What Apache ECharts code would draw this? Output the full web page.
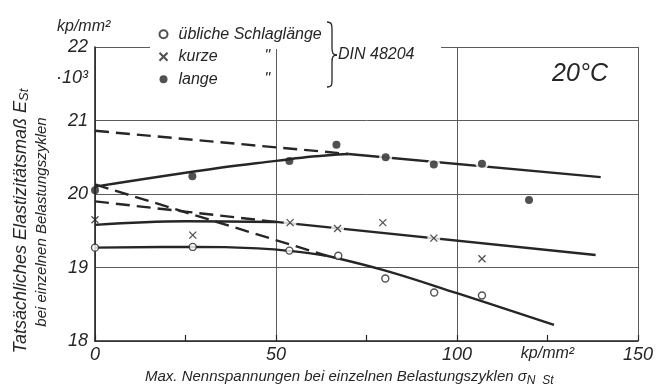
<!DOCTYPE html>
<html>
<head>
<meta charset="utf-8">
<script src="https://cdn.jsdelivr.net/npm/echarts@6/dist/echarts.min.js"></script>
<style>
  html, body { margin: 0; padding: 0; background: #fff; }
  #chart { width: 656px; height: 389px; }
</style>
</head>
<body>
<div id="chart"></div>
<script>
// Measured points: [max. nominal stress kp/mm², modulus in 10³ kp/mm²]
const ueblichePts = [[0, 19.27], [27, 19.28], [53.7, 19.23], [67.2, 19.16], [80.2, 18.85], [93.7, 18.66], [106.9, 18.62]];
const kurzePts    = [[0, 19.65], [27, 19.44], [53.9, 19.61], [67, 19.53], [79.5, 19.61], [93.6, 19.40], [106.9, 19.12]];
const langePts    = [[0, 20.05], [26.9, 20.24], [53.7, 20.45], [66.7, 20.67], [80.3, 20.50], [93.6, 20.40], [106.9, 20.41], [119.9, 19.92]];

// Drawn-in curves: solid fit at low stress, dashed extrapolation, solid trend line
const ueblicheCurve = [[0, 19.27], [27, 19.28], [45, 19.26], [55, 19.22], [64, 19.16]];
const ueblicheDash  = [[0, 20.13], [64, 19.16]];
const ueblicheTrend = [[64, 19.16], [80, 18.96], [100, 18.65], [126.8, 18.22]];
const kurzeCurve = [[0, 19.58], [25, 19.63], [50, 19.62]];
const kurzeDash  = [[0, 19.90], [50, 19.62]];
const kurzeTrend = [[50, 19.62], [138.3, 19.17]];
const langeCurve = [[0, 20.10], [35, 20.36], [50, 20.45], [60, 20.51], [70, 20.545]];
const langeDash  = [[0, 20.86], [70, 20.545]];
const langeTrend = [[70, 20.545], [139.7, 20.23]];

// Markers that sit on a trend line get a white halo so the line breaks around them
const langeOnLine = [4, 5, 6];
const kurzeOnLine = [2, 3, 5];

// Axes
const xLabelValues = [0, 50, 100, 125, 150];
const xTickStep = 25;
const xUnit = 'kp/mm²';
const legendNames = ['übliche Schlaglänge', 'kurze', 'lange'];

const INK = '#262626';
const GRID = '#5c5c5c';
const FONT = "'Liberation Sans', Arial, sans-serif";
const NARROW = "'Liberation Sans Narrow', 'Liberation Sans', Arial, sans-serif";
const CROSS = 'path://M0,0L10,10M10,0L0,10';

function lineSeries(name, data, dashed, smooth) {
  return {
    name: name, type: 'line', data: data, showSymbol: false, smooth: smooth ? 0.4 : false,
    silent: true, z: 2,
    lineStyle: { color: INK, width: 2.4, type: dashed ? [14, 7] : 'solid', cap: 'butt' }
  };
}

function braceCurve(x1, y1, cpx1, cpy1, cpx2, cpy2, x2, y2) {
  return { type: 'bezierCurve', silent: true, z: 6,
    shape: { x1: x1, y1: y1, cpx1: cpx1, cpy1: cpy1, cpx2: cpx2, cpy2: cpy2, x2: x2, y2: y2 },
    style: { stroke: INK, lineWidth: 1.3, fill: null } };
}
function braceLine(x1, y1, x2, y2) {
  return { type: 'line', silent: true, z: 6, shape: { x1: x1, y1: y1, x2: x2, y2: y2 },
    style: { stroke: INK, lineWidth: 1.3 } };
}

const haloData = langeOnLine.map(i => langePts[i]).concat(kurzeOnLine.map(i => kurzePts[i]));

const chart = echarts.init(document.getElementById('chart'), null, { renderer: 'canvas' });

chart.setOption({
  animation: false,
  backgroundColor: '#ffffff',
  grid: { left: 95, right: 9, top: 47, bottom: 48, containLabel: false },
  xAxis: [{
    type: 'value', min: 0, max: 150, interval: 50,
    axisLine: { show: true, onZero: false, lineStyle: { color: INK, width: 1.6 } },
    axisTick: { show: false },
    axisLabel: {
      customValues: xLabelValues, margin: 5, color: INK,
      fontSize: 18, fontStyle: 'italic', fontFamily: NARROW,
      formatter: v => (v === 125 ? '{u|' + xUnit + '}' : String(v)),
      rich: { u: { fontSize: 16, fontStyle: 'italic', fontFamily: FONT, color: INK } }
    },
    splitLine: { show: true, lineStyle: { color: GRID, width: 1 } }
  }, {
    // short inward ticks every 25 kp/mm² along the bottom edge
    type: 'value', min: 0, max: 150, interval: xTickStep, position: 'bottom',
    axisLine: { show: false, onZero: false },
    axisTick: { show: true, inside: true, length: 6, lineStyle: { color: INK, width: 1.2 } },
    axisLabel: { show: false },
    splitLine: { show: false }
  }],
  yAxis: {
    type: 'value', min: 18, max: 22, interval: 1,
    axisLine: { show: true, lineStyle: { color: INK, width: 1.6 } },
    axisTick: { show: false },
    axisLabel: { margin: 7, color: INK, fontSize: 18, fontStyle: 'italic', fontFamily: NARROW },
    splitLine: { show: true, lineStyle: { color: GRID, width: 1 } }
  },
  legend: {
    data: legendNames, orient: 'vertical', left: 157, top: 23, padding: 0,
    itemGap: 0, itemWidth: 8, itemHeight: 8, selectedMode: false,
    formatter: n => (n === legendNames[0] ? '{g| }{w|' + n + '}' : '{g| }{n|' + n + '}{d|"}'),
    textStyle: {
      color: INK, fontFamily: FONT, fontStyle: 'italic', fontSize: 16, lineHeight: 22.5,
      rich: {
        g: { width: 6 },
        w: { fontFamily: FONT, fontStyle: 'italic', fontSize: 16, lineHeight: 22.5, color: INK },
        n: { width: 86, fontFamily: FONT, fontStyle: 'italic', fontSize: 16, lineHeight: 22.5, color: INK },
        d: { fontFamily: FONT, fontStyle: 'italic', fontSize: 16, lineHeight: 22.5, color: INK }
      }
    }
  },
  graphic: [
    // break in the top frame line behind the key
    { type: 'rect', z: 1, silent: true, shape: { x: 150, y: 45, width: 291, height: 4 }, style: { fill: '#fff' } },
    { type: 'text', x: 57, y: 27, style: { text: 'kp/mm²', font: 'italic 16px ' + FONT, fill: INK, align: 'left', verticalAlign: 'middle' } },
    { type: 'text', x: 88, y: 78, style: { text: '·10³', font: 'italic 18px ' + NARROW, fill: INK, align: 'right', verticalAlign: 'middle' } },
    // curly brace grouping the three rope lay lengths
    braceCurve(327, 22, 332, 22, 332, 25, 332, 31),
    braceLine(332, 31, 332, 48),
    braceCurve(332, 48, 332, 53, 333, 55, 337, 55),
    braceCurve(337, 55, 333, 55, 332, 57, 332, 62),
    braceLine(332, 62, 332, 79),
    braceCurve(332, 79, 332, 85, 332, 87, 327, 87),
    { type: 'text', z: 6, x: 338, y: 55, style: { text: 'DIN 48204', font: 'italic 16px ' + FONT, fill: INK, align: 'left', verticalAlign: 'middle' } },
    { type: 'text', z: 6, x: 580, y: 74, style: { text: '20°C', font: 'italic 25px ' + NARROW, fill: INK, align: 'center', verticalAlign: 'middle' } },
    { type: 'text', x: 21, y: 221, rotation: Math.PI / 2,
      style: { text: '{m|Tatsächliches Elastizitätsmaß E}{s|St}', align: 'center', verticalAlign: 'middle', fill: INK,
        rich: { m: { fontFamily: FONT, fontStyle: 'italic', fontSize: 18, lineHeight: 20, verticalAlign: 'middle', fill: INK },
                s: { fontFamily: FONT, fontStyle: 'italic', fontSize: 13, lineHeight: 12, verticalAlign: 'bottom', fill: INK } } } },
    { type: 'text', x: 42, y: 222, rotation: Math.PI / 2,
      style: { text: 'bei einzelnen Belastungszyklen', font: 'italic 15px ' + FONT, fill: INK, align: 'center', verticalAlign: 'middle' } },
    { type: 'text', x: 145, y: 377,
      style: { text: '{m|Max. Nennspannungen bei einzelnen Belastungszyklen σ}{s|N  St}', align: 'left', verticalAlign: 'middle', fill: INK,
        rich: { m: { fontFamily: FONT, fontStyle: 'italic', fontSize: 15, lineHeight: 20, verticalAlign: 'middle', fill: INK },
                s: { fontFamily: FONT, fontStyle: 'italic', fontSize: 12, lineHeight: 12, verticalAlign: 'bottom', fill: INK } } } }
  ],
  series: [
    lineSeries('c1', ueblicheCurve, false, true),
    lineSeries('c2', ueblicheDash, true, false),
    lineSeries('c3', ueblicheTrend, false, true),
    lineSeries('c4', kurzeCurve, false, true),
    lineSeries('c5', kurzeDash, true, false),
    lineSeries('c6', kurzeTrend, false, false),
    lineSeries('c7', langeCurve, false, true),
    lineSeries('c8', langeDash, true, false),
    lineSeries('c9', langeTrend, false, false),
    { name: 'halo', type: 'scatter', data: haloData, symbol: 'circle', symbolSize: 13, z: 3, silent: true,
      itemStyle: { color: '#fff' } },
    { name: legendNames[0], type: 'scatter', data: ueblichePts, symbol: 'circle', symbolSize: 7, z: 4,
      itemStyle: { color: '#fff', borderColor: INK, borderWidth: 1.4 } },
    { name: legendNames[1], type: 'scatter', data: kurzePts, symbol: CROSS, symbolSize: 7, z: 4,
      itemStyle: { color: 'none', borderColor: INK, borderWidth: 1.3 } },
    { name: legendNames[2], type: 'scatter', data: langePts, symbol: 'circle', symbolSize: 8, z: 4,
      itemStyle: { color: INK } }
  ]
});
</script>
</body>
</html>
